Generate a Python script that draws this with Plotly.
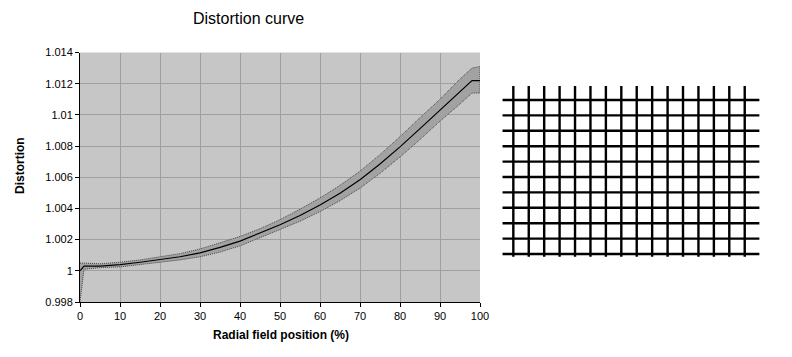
import plotly.graph_objects as go

# ---- data ----
radial_pos = [0, 1, 5, 10, 15, 20, 25, 30, 35, 40, 45, 50, 55, 60, 65, 70, 75, 80, 85, 90, 95, 97, 98, 100]
distortion = [1.0000, 1.0003, 1.0003, 1.0004, 1.00055, 1.00072, 1.0009, 1.00115, 1.0015, 1.0019, 1.0024,
              1.00295, 1.00355, 1.00422, 1.00498, 1.00584, 1.00685, 1.00795, 1.00912, 1.0103, 1.0115,
              1.0120, 1.0122, 1.0122]
upper_bound = [1.0005, 1.0005, 1.00045, 1.00055, 1.0007, 1.0009, 1.0011, 1.0014, 1.0018, 1.0022, 1.0027,
               1.00328, 1.00395, 1.00467, 1.00548, 1.00639, 1.00745, 1.00860, 1.00982, 1.0110, 1.0123,
               1.0128, 1.0130, 1.0131]
lower_bound = [0.9980, 1.0001, 1.0002, 1.00025, 1.0004, 1.00055, 1.0007, 1.0009, 1.0012, 1.0016, 1.0021,
               1.00265, 1.00318, 1.00380, 1.00450, 1.00530, 1.00625, 1.00730, 1.00842, 1.0096, 1.0107,
               1.0112, 1.0114, 1.0114]

x_ticks = [0, 10, 20, 30, 40, 50, 60, 70, 80, 90, 100]
y_ticks = [0.998, 1.0, 1.002, 1.004, 1.006, 1.008, 1.01, 1.012, 1.014]
y_tick_labels = ["0.998", "1", "1.002", "1.004", "1.006", "1.008", "1.01", "1.012", "1.014"]

# distortion-grid illustration: 16 vertical lines, 11 horizontal lines
grid_cols = list(range(16))
grid_rows = list(range(11))
h_extent = [-0.7, 15.95]   # horizontal line extent (in column units)
v_extent = [-0.91, 10.18]  # vertical line extent (in row units)

FONT = "Liberation Sans, Arial, sans-serif"
EDGE = dict(color="#444444", width=1, dash="1px,1px")

fig = go.Figure()

# band (lower then upper filled to it)
fig.add_trace(go.Scatter(x=radial_pos, y=lower_bound, mode="lines", line=EDGE,
                         hoverinfo="skip", showlegend=False))
fig.add_trace(go.Scatter(x=radial_pos, y=upper_bound, mode="lines", fill="tonexty",
                         fillcolor="#a2a2a2", line=EDGE,
                         hoverinfo="skip", showlegend=False))
# right edge of band
fig.add_trace(go.Scatter(x=[radial_pos[-1], radial_pos[-1]], y=[lower_bound[-1], upper_bound[-1]],
                         mode="lines", line=EDGE, hoverinfo="skip", showlegend=False))
# centre curve
fig.add_trace(go.Scatter(x=radial_pos, y=distortion, mode="lines",
                         line=dict(color="#000000", width=1.2),
                         showlegend=False))

# grid illustration
gx, gy = [], []
for c in grid_cols:
    gx += [c, c, None]
    gy += [v_extent[0], v_extent[1], None]
for r in grid_rows:
    gx += [h_extent[0], h_extent[1], None]
    gy += [r, r, None]
fig.add_trace(go.Scatter(x=gx, y=gy, mode="lines", xaxis="x2", yaxis="y2",
                         line=dict(color="#000000", width=2.4),
                         hoverinfo="skip", showlegend=False))

W, H = 792, 357
fig.update_layout(
    width=W, height=H,
    margin=dict(l=0, r=0, t=0, b=0),
    paper_bgcolor="white",
    plot_bgcolor="white",
    font=dict(family=FONT, size=11, color="black"),
    xaxis=dict(domain=[80 / W, 480 / W], range=[0, 100], tickvals=x_ticks,
               showgrid=True, gridcolor="#a0a0a0", gridwidth=1,
               showline=True, linecolor="black", linewidth=1,
               ticks="outside", ticklen=4, tickcolor="black",
               zeroline=False, tickfont=dict(size=11), automargin=False),
    yaxis=dict(domain=[1 - 302 / H, 1 - 52.5 / H], range=[0.998, 1.014],
               tickvals=y_ticks, ticktext=y_tick_labels,
               showgrid=True, gridcolor="#a0a0a0", gridwidth=1,
               showline=True, linecolor="black", linewidth=1,
               ticks="outside", ticklen=4, tickcolor="black",
               zeroline=False, tickfont=dict(size=11), automargin=False),
    xaxis2=dict(domain=[497.9 / W, 764.0 / W], range=[-1, 16.25], anchor="y2",
                visible=False, showgrid=False, zeroline=False),
    yaxis2=dict(domain=[1 - 261.7 / H, 1 - 81.5 / H], range=[10.5, -1.2], anchor="x2",
                visible=False, showgrid=False, zeroline=False),
    shapes=[
        dict(type="rect", xref="x domain", yref="y domain", x0=0, x1=1, y0=0, y1=1,
             fillcolor="#c6c6c6", line=dict(width=0), layer="below"),
    ],
    annotations=[
        dict(text="Distortion curve", x=248 / W, y=1 - 18 / H, xref="paper", yref="paper",
             showarrow=False, xanchor="center", yanchor="middle",
             font=dict(family=FONT, size=16, color="black")),
        dict(text="<b>Radial field position (%)</b>", x=281 / W, y=1 - 335 / H,
             xref="paper", yref="paper", showarrow=False, xanchor="center", yanchor="middle",
             font=dict(family=FONT, size=12, color="black")),
        dict(text="<b>Distortion</b>", x=20 / W, y=1 - 166 / H, xref="paper", yref="paper",
             showarrow=False, xanchor="center", yanchor="middle", textangle=-90,
             font=dict(family=FONT, size=12, color="black")),
    ],
)

fig.write_html("out.html", config={"displayModeBar": False},
               post_script="document.body.style.margin='0px';")
